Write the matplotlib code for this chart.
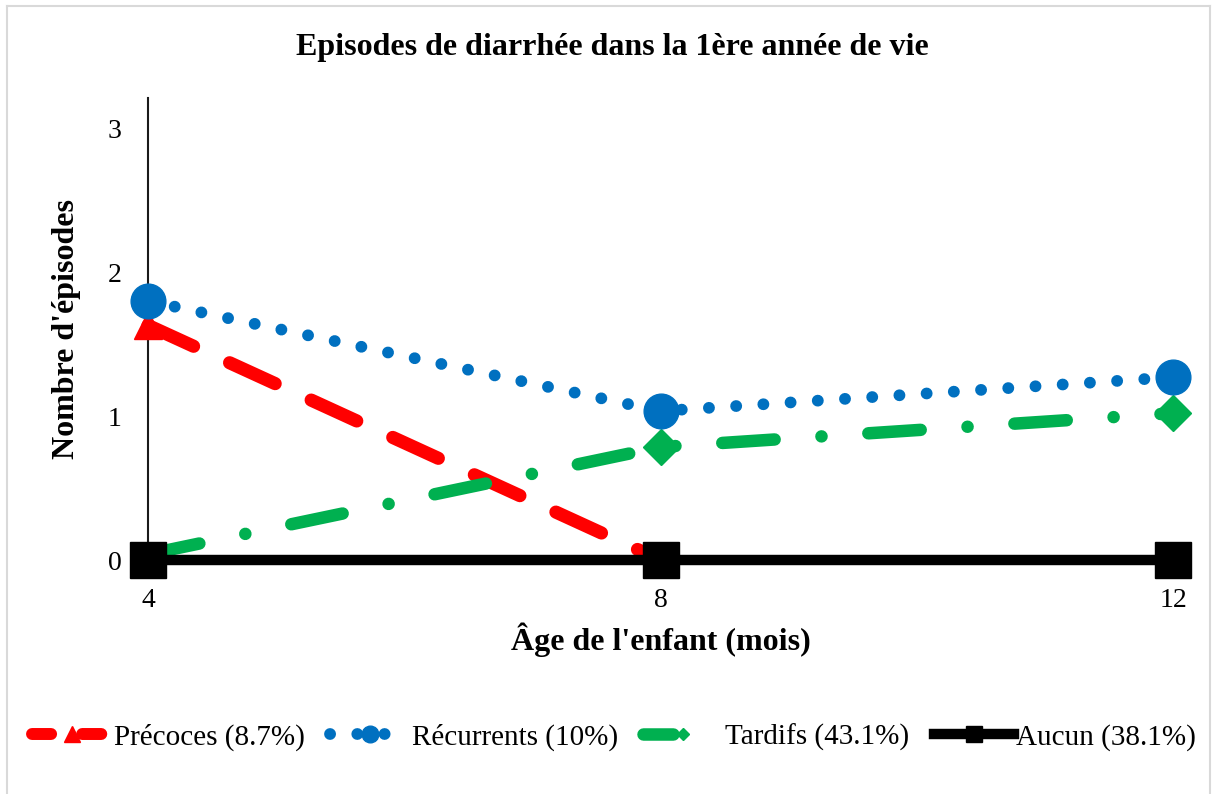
import matplotlib
matplotlib.use("Agg")
import matplotlib.pyplot as plt
from matplotlib.lines import Line2D

plt.rcParams['font.family'] = ['Liberation Serif', 'DejaVu Serif']

ages = [4, 8, 12]
precoces = [1.63, 0.0]
recurrents = [1.80, 1.035, 1.27]
tardifs = [0.04, 0.785, 1.02]
aucun = [0.0, 0.0, 0.0]
labels = ['Précoces (8.7%)', 'Récurrents (10%)', 'Tardifs (43.1%)', 'Aucun (38.1%)']
yticks = [0, 1, 2, 3]
xticks = [4, 8, 12]

RED, BLUE, GREEN = '#ff0000', '#0070c0', '#00b050'

W, H = 1213, 794
fig = plt.figure(figsize=(W/100, H/100), dpi=100)
bc = '#d9d9d9'
fig.add_artist(Line2D([7/W, 7/W], [0, 1-6/H], transform=fig.transFigure, color=bc, lw=1.5))
fig.add_artist(Line2D([7/W, 1210/W], [1-6/H, 1-6/H], transform=fig.transFigure, color=bc, lw=1.5))
fig.add_artist(Line2D([1210/W, 1210/W], [1-6/H, 0], transform=fig.transFigure, color=bc, lw=1.5))

ax = fig.add_axes([148/W, 1-560/H, (1173-148)/W, (560-98)/H])

ax.plot(ages[:2], precoces, color=RED, lw=9.5, dashes=(3.8, 3.0), dash_capstyle='round',
        marker='^', ms=20, clip_on=False, zorder=3)
ax.plot(ages, recurrents, color=BLUE, lw=8.5, dashes=(0.01, 2.3), dash_capstyle='round',
        marker='o', ms=25, clip_on=False, zorder=4)
ax.plot(ages, tardifs, color=GREEN, lw=9, dashes=(4.2, 3.75, 0.01, 3.75), dash_capstyle='round',
        marker='D', ms=18, markevery=[1, 2], clip_on=False, zorder=3)
ax.plot(ages, aucun, color='black', lw=7.5, marker='s', ms=26,
        clip_on=False, zorder=5)

ax.set_xlim(4, 12)
ax.set_ylim(0, 3.21)
ax.set_xticks(xticks)
ax.set_yticks(yticks)
ax.tick_params(axis='both', length=0, labelsize=20)
ax.tick_params(axis='x', pad=20)
ax.tick_params(axis='y', pad=19)
for s in ['top', 'right', 'bottom']:
    ax.spines[s].set_visible(False)
ax.spines['left'].set_linewidth(1.5)
ax.spines['left'].set_color('#1a1a1a')

ax.set_xlabel("Âge de l'enfant (mois)", fontsize=23, fontweight='bold', labelpad=7)
ax.set_ylabel("Nombre d'épisodes", fontsize=23, fontweight='bold', labelpad=19)
fig.text(612/W, 1-47/H, "Episodes de diarrhée dans la 1ère année de vie",
         ha='center', va='center', fontsize=23, fontweight='bold')

handles = [
    Line2D([], [], color=RED, lw=8.6, dashes=(1.6, 2.6), dash_capstyle='round',
           marker='^', ms=11),
    Line2D([], [], color=BLUE, lw=8.5, dashes=(0.01, 2.3), dash_capstyle='round',
           marker='o', ms=12),
    Line2D([], [], color=GREEN, lw=9, dashes=(2.4, 8.0), dash_capstyle='round',
           marker='D', ms=6),
    Line2D([], [], color='black', lw=7.5, marker='s', ms=12),
]
leg = fig.legend(handles, labels, loc='center', bbox_to_anchor=(614/W, 1-737/H), ncol=4,
                 frameon=False, fontsize=21, handlelength=2.74, columnspacing=0.86,
                 handletextpad=0.07)

fig.savefig('out.png', dpi=100)
